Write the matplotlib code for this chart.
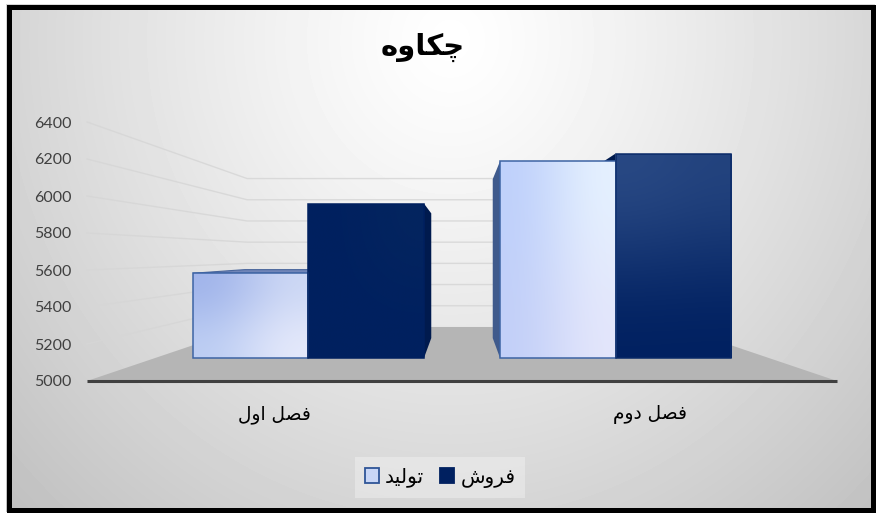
import numpy as np
import matplotlib
matplotlib.use("Agg")
import matplotlib.pyplot as plt
from matplotlib.patches import Rectangle, Patch

# ---- data ----
title_text = "چکاوه"
categories = ["فصل اول", "فصل دوم"]
series_names = ["تولید", "فروش"]
production = [5560, 6300]
sales = [6020, 6350]
y_ticks = [5000, 5200, 5400, 5600, 5800, 6000, 6200, 6400]


# ---- Arabic shaping (matplotlib draws glyphs left to right, unshaped) ----
FORMS = {
    "ف": (0xFED1, 0xFED2, 0xFED3, 0xFED4), "ص": (0xFEB9, 0xFEBA, 0xFEBB, 0xFEBC),
    "ل": (0xFEDD, 0xFEDE, 0xFEDF, 0xFEE0), "ا": (0xFE8D, 0xFE8E, None, None),
    "و": (0xFEED, 0xFEEE, None, None), "د": (0xFEA9, 0xFEAA, None, None),
    "م": (0xFEE1, 0xFEE2, 0xFEE3, 0xFEE4), "ت": (0xFE95, 0xFE96, 0xFE97, 0xFE98),
    "ی": (0xFBFC, 0xFBFD, 0xFBFE, 0xFBFF), "ر": (0xFEAD, 0xFEAE, None, None),
    "ش": (0xFEB5, 0xFEB6, 0xFEB7, 0xFEB8), "چ": (0xFB7A, 0xFB7B, 0xFB7C, 0xFB7D),
    "ک": (0xFB8E, 0xFB8F, 0xFB90, 0xFB91), "ه": (0xFEE9, 0xFEEA, 0xFEEB, 0xFEEC),
}


def shape(text):
    out = []
    for i, ch in enumerate(text):
        if ch not in FORMS:
            out.append(ch)
            continue
        prev = text[i - 1] if i else " "
        nxt = text[i + 1] if i + 1 < len(text) else " "
        joins_prev = prev in FORMS and FORMS[prev][2] is not None
        joins_next = nxt in FORMS and FORMS[ch][2] is not None
        idx = {(0, 0): 0, (1, 0): 1, (0, 1): 2, (1, 1): 3}[(int(joins_prev), int(joins_next))]
        out.append(chr(FORMS[ch][idx]))
    return "".join(reversed(out))


W, H = 880, 518
fig = plt.figure(figsize=(W / 100, H / 100), dpi=100, facecolor="white")

# ---- background ----
bg = fig.add_axes([0, 0, 1, 1], zorder=0)
bg.set_axis_off()
yy, xx = np.mgrid[0:H, 0:W]
d = np.sqrt(((xx - 450) / 560) ** 2 + ((yy - 40) / 600) ** 2)
bg.imshow(1 - 0.22 * d ** 1.2, cmap="gray", vmin=0, vmax=1, extent=(0, W, H, 0), aspect="auto")
bg.set_xlim(0, W)
bg.set_ylim(H, 0)
bg.add_patch(Rectangle((8.5, 6.5), 864, 503, fill=False, ec="black", lw=3.6, zorder=5,
                       joinstyle="miter"))
# white margin outside the frame
for rect in [(0, 0, W, 4), (0, 512, W, 6), (0, 0, 6, H), (875, 0, 5, H)]:
    bg.add_patch(Rectangle(rect[:2], rect[2], rect[3], fc="white", ec="none", zorder=4))

# ---- main axes: the front plane ----
AX_L, AX_R, AX_B, AX_T = 87, 837, 381, 122
ax = fig.add_axes([AX_L / W, 1 - AX_B / H, (AX_R - AX_L) / W, (AX_B - AX_T) / H], zorder=1)
ax.patch.set_alpha(0)
ax.set_xlim(0, 2)
ax.set_ylim(y_ticks[0], y_ticks[-1])
for s in ax.spines.values():
    s.set_visible(False)
ax.set_yticks(y_ticks)
ax.set_xticks([0.5, 1.5])
ax.set_xticklabels([shape(c) for c in categories], fontsize=13.4, color="black",
                   fontfamily="DejaVu Sans")
ax.tick_params(axis="x", length=0, pad=17.5)
ax.tick_params(axis="y", length=0, pad=11, labelsize=11.5, labelcolor="#404040")
for lab in ax.get_yticklabels():
    lab.set_fontfamily("Lato")

# perspective: s is the shrink towards the vanishing point
VP_X, VP_V = 1.0, 5684.0
S_WALL, S_BAR_FRONT, S_BAR_BACK = 0.573, 0.819, 0.661
BAR_W = 0.376


def proj(x, v, s):
    return VP_X + (x - VP_X) * s, VP_V + (v - VP_V) * s


def quad(points, **kw):
    xs, vs = zip(*[proj(*p) for p in points])
    ax.fill(xs, vs, clip_on=False, **kw)


base = y_ticks[0]
# side wall + back wall gridlines
for v in y_ticks[1:]:
    pts = [proj(0, v, 1), proj(0, v, S_WALL), proj(2, v, S_WALL)]
    ax.plot(*zip(*pts), color="#d6d6d6", lw=1, alpha=0.85, zorder=1, clip_on=False)
# floor
quad([(0, base, 1), (2, base, 1), (2, base, S_WALL), (0, base, S_WALL)],
     color="#b5b5b5", lw=0, zorder=2)


def bar_front(x0, x1, v, corners, edge):
    (px0, vb), (px1, vt) = proj(x0, base, S_BAR_FRONT), proj(x1, v, S_BAR_FRONT)
    im = ax.imshow(np.array(corners, dtype=float) / 255, extent=(px0, px1, vb, vt), origin="upper",
                   aspect="auto", interpolation="bicubic", zorder=6)
    r = Rectangle((px0, vb), px1 - px0, vt - vb, fill=False, ec=edge, lw=1.1, zorder=7, clip_on=False)
    ax.add_patch(r)
    im.set_clip_path(r)


def rgb(h):
    return [int(h[i:i + 2], 16) for i in (1, 3, 5)]


c1, c2 = 0.5, 1.5
# Q1 production top, Q1 sales right face, Q2 sales left face, Q2 production left face
quad([(c1 - BAR_W, production[0], S_BAR_FRONT), (c1, production[0], S_BAR_FRONT),
      (c1, production[0], S_BAR_BACK), (c1 - BAR_W, production[0], S_BAR_BACK)],
     facecolor="#7085b8", edgecolor="#4a669c", lw=0.8, zorder=4)
quad([(c1 + BAR_W, base, S_BAR_FRONT), (c1 + BAR_W, sales[0], S_BAR_FRONT),
      (c1 + BAR_W, sales[0], S_BAR_BACK), (c1 + BAR_W, base, S_BAR_BACK)],
     color="#001a4e", lw=0, zorder=4)
quad([(c2, base, S_BAR_FRONT), (c2, sales[1], S_BAR_FRONT),
      (c2, sales[1], S_BAR_BACK), (c2, base, S_BAR_BACK)],
     color="#001a4e", lw=0, zorder=4)
quad([(c2 - BAR_W, base, S_BAR_FRONT), (c2 - BAR_W, production[1], S_BAR_FRONT),
      (c2 - BAR_W, production[1], S_BAR_BACK), (c2 - BAR_W, base, S_BAR_BACK)],
     color="#3f5a8c", lw=0, zorder=5)

EDGE_P, EDGE_S = "#3d64a4", "#0a2a68"
bar_front(c1 - BAR_W, c1, production[0],
          [[rgb("#9fb3ea"), rgb("#cdd8f5")], [rgb("#bccdf3"), rgb("#e6eafb")]], EDGE_P)
bar_front(c1, c1 + BAR_W, sales[0],
          [[rgb("#00205f"), rgb("#04255f")], [rgb("#00205f"), rgb("#00205f")]], "#00205f")
bar_front(c2 - BAR_W, c2, production[1],
          [[rgb("#bed0fb"), rgb("#e6f2ff")], [rgb("#c2cff8"), rgb("#e4e6fb")]], EDGE_P)
bar_front(c2, c2 + BAR_W, sales[1],
          [[rgb("#2a4a85"), rgb("#24447f")], [rgb("#002060"), rgb("#002060")]], EDGE_S)
ax.set_xlim(0, 2)
ax.set_ylim(y_ticks[0], y_ticks[-1])

# axis line
ax.plot([0, 2], [base, base], color="#404040", lw=2.2, zorder=8, clip_on=False,
        solid_capstyle="butt")

# title
fig.text(423 / W, 1 - 47 / H, shape(title_text), ha="center", va="center", fontsize=21,
         color="black", fontfamily="DejaVu Sans", fontweight="bold")

# legend
handles = [Patch(facecolor="#c8d6f6", edgecolor="#2f5597", lw=1.3),
           Patch(facecolor="#002060", edgecolor="#002060", lw=1.3)]
leg = fig.legend(handles, [shape(n) for n in series_names], ncol=2, loc="center",
                 bbox_to_anchor=(440 / W, 1 - 477.5 / H), frameon=True, fancybox=False,
                 framealpha=0.3, facecolor="white", edgecolor="none",
                 prop={"family": "DejaVu Sans", "size": 14.5},
                 handlelength=0.7, handleheight=0.7, handletextpad=0.3, columnspacing=0.8,
                 borderpad=0.5, borderaxespad=0)

fig.savefig("out.png", dpi=100)
